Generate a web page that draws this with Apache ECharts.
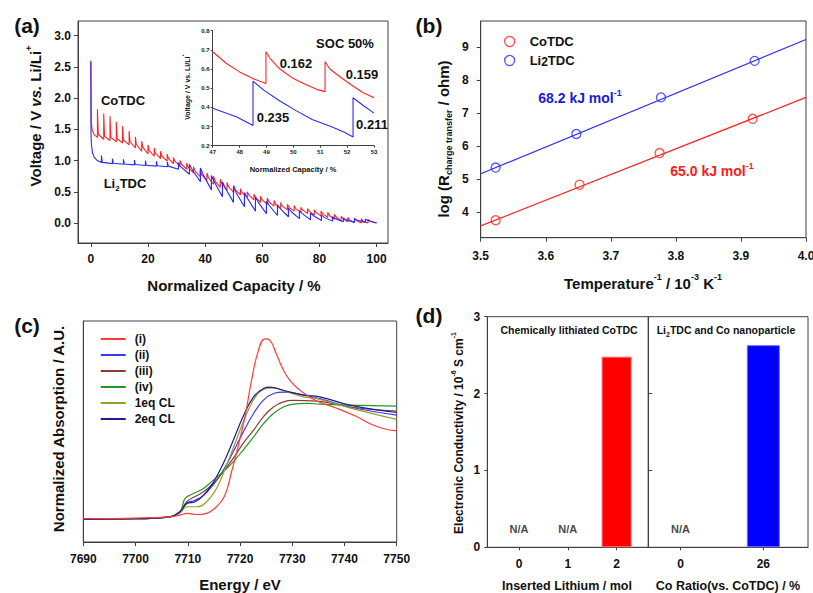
<!DOCTYPE html>
<html>
<head>
<meta charset="utf-8">
<script src="https://cdn.jsdelivr.net/npm/echarts@6.0.0/dist/echarts.min.js"></script>
<style>
html, body { margin: 0; padding: 0; background: #fff; }
#fig { width: 813px; height: 593px; }
</style>
</head>
<body>
<div id="fig"></div>
<script>
// ---- (a) GITT discharge curves, [normalized capacity %, voltage V]
var coTdcGitt = [
  [0,2.3],[0,2.6],[0.15,1.6],[0.5,1.48],[1.2,1.41],[2.3,1.37],
  [2.3,1.82],[2.6,1.42],[4.5,1.34],
  [4.5,1.75],[4.8,1.39],[6.7,1.32],
  [6.7,1.71],[7.0,1.37],[8.9,1.30],
  [8.9,1.62],[9.2,1.35],[11.1,1.28],
  [11.1,1.55],[11.4,1.33],[13.4,1.25],
  [13.4,1.47],[13.7,1.30],[15.6,1.20],
  [15.6,1.38],[15.9,1.26],[17.8,1.15],
  [17.8,1.31],[18.2,1.21],[20.0,1.11],
  [20.0,1.25],[20.4,1.16],[22.2,1.07],
  [22.2,1.20],[22.6,1.12],[24.4,1.03],
  [24.4,1.15],[24.9,1.07],[26.7,0.99],
  [26.7,1.10],[27.2,1.03],[28.9,0.95],
  [28.9,1.05],[29.4,0.99],[31.2,0.91],
  [31.2,1.00],[31.7,0.94],[33.55,0.86],
  [33.55,0.96],[34.1,0.89],[35.9,0.80],
  [35.9,0.90],[36.5,0.83],[38.25,0.74],
  [38.25,0.85],[38.8,0.77],[40.6,0.68],
  [40.6,0.80],[41.2,0.72],[42.95,0.62],
  [42.95,0.75],[43.5,0.67],[45.3,0.57],
  [45.3,0.70],[45.9,0.62],[47.65,0.53],
  [47.65,0.65],[48.2,0.58],[50.0,0.49],
  [50.0,0.60],[50.6,0.53],[52.35,0.45],
  [52.35,0.55],[52.9,0.49],[54.7,0.41],
  [54.7,0.50],[55.3,0.45],[57.05,0.37],
  [57.05,0.46],[57.6,0.41],[59.4,0.33],
  [59.4,0.43],[60.0,0.37],[61.75,0.30],
  [61.75,0.40],[62.3,0.34],[64.1,0.27],
  [64.1,0.36],[64.7,0.30],[66.45,0.23],
  [66.45,0.33],[67.0,0.27],[68.8,0.21],
  [68.8,0.30],[69.4,0.25],[71.15,0.19],
  [71.15,0.28],[71.7,0.23],[73.5,0.17],
  [73.5,0.25],[74.1,0.21],[75.85,0.15],
  [75.85,0.23],[76.4,0.19],[78.2,0.13],
  [78.2,0.21],[78.8,0.17],[80.55,0.11],
  [80.55,0.19],[81.1,0.15],[82.9,0.09],
  [82.9,0.17],[83.5,0.12],[85.25,0.06],
  [85.25,0.14],[85.8,0.10],[87.6,0.03],
  [87.6,0.11],[88.2,0.07],[89.95,0.02],
  [89.95,0.09],[90.5,0.05],[92.3,0.01],
  [92.3,0.08],[92.9,0.04],[94.65,0.0],
  [94.65,0.07],[95.2,0.03],[97.0,0.0],
  [97.0,0.06],[97.6,0.03],[100,0.0]
];
var li2TdcGitt = [
  [0,2.58],[0.05,1.45],[0.2,1.25],[0.6,1.12],[1.2,1.05],[2.2,1.0],[3.7,0.97],
  [3.7,1.08],[4.0,0.97],[7.55,0.95],
  [7.55,1.03],[7.85,0.955],[11.4,0.94],
  [11.4,1.02],[11.7,0.945],[15.25,0.93],
  [15.25,1.01],[15.55,0.935],[19.1,0.92],
  [19.1,1.00],[19.4,0.925],[22.95,0.91],
  [22.95,0.99],[23.25,0.915],[26.8,0.90],
  [26.8,0.98],[27.1,0.91],[30.65,0.86],
  [30.65,0.97],[31.2,0.91],[34.5,0.78],
  [34.5,0.94],[35.5,0.85],[38.35,0.66],
  [38.35,0.88],[39.35,0.77],[42.2,0.53],
  [42.2,0.76],[43.2,0.66],[46.05,0.42],
  [46.05,0.66],[47.05,0.56],[49.9,0.33],
  [49.9,0.58],[50.9,0.48],[53.75,0.26],
  [53.75,0.49],[54.75,0.40],[57.6,0.19],
  [57.6,0.42],[58.6,0.33],[61.45,0.15],
  [61.45,0.35],[62.45,0.28],[65.3,0.12],
  [65.3,0.29],[66.3,0.23],[69.15,0.10],
  [69.15,0.24],[70.15,0.18],[73.0,0.07],
  [73.0,0.20],[74.0,0.15],[76.85,0.05],
  [76.85,0.16],[77.85,0.12],[80.7,0.04],
  [80.7,0.13],[81.7,0.09],[84.55,0.03],
  [84.55,0.10],[85.55,0.07],[88.4,0.02],
  [88.4,0.08],[89.4,0.05],[92.25,0.01],
  [92.25,0.07],[93.25,0.045],[96.1,0.01],
  [96.1,0.06],[97.1,0.04],[100,0.0]
];
var aTicksX = [0, 20, 40, 60, 80, 100];
var aTicksY = [0, 0.5, 1.0, 1.5, 2.0, 2.5, 3.0];

// (a) inset around SOC 50 %
var coTdcInset = [
  [47,0.69],[47.5,0.63],[48,0.585],[48.5,0.55],[48.98,0.525],
  [48.98,0.69],[49.13,0.656],[49.5,0.60],[50,0.55],[50.5,0.517],[50.87,0.494],[51.18,0.482],
  [51.18,0.638],[51.36,0.60],[51.73,0.56],[52.23,0.51],[52.6,0.476],[53,0.45]
];
var li2TdcInset = [
  [47,0.395],[47.9,0.35],[48.5,0.305],
  [48.5,0.537],[48.9,0.49],[49.5,0.433],[50.1,0.383],[50.7,0.337],[51.4,0.30],[51.9,0.27],[52.22,0.245],
  [52.22,0.45],[52.6,0.41],[53,0.37]
];

// ---- (b) Arrhenius plot, [1000/T, log R_ct]
var coTdcArr = [[3.523,3.75],[3.652,4.83],[3.775,5.79],[3.918,6.83]];
var li2TdcArr = [[3.523,5.35],[3.647,6.37],[3.777,7.48],[3.921,8.59]];
var coTdcFit = [[3.5,3.58],[4.0,7.48]];
var li2TdcFit = [[3.5,5.16],[4.0,9.24]];
var bTicksY = [4, 5, 6, 7, 8, 9];

// ---- (c) Co K-edge XANES, [energy eV, normalized absorption]
var xanesNames = ['(i)', '(ii)', '(iii)', '(iv)', '1eq CL', '2eq CL'];
var xanesColors = ['#ff3b3b', '#3a3aff', '#8e3b3b', '#1f9a1f', '#9c9c2c', '#1c1c8c'];
var xanesI = [[7690,-0.005],[7700,0.0],[7706.6,0.011],[7708.5,0.025],[7709.8,0.04],[7711.7,0.03],[7713.6,0.04],[7715.5,0.095],[7717.1,0.19],[7718.4,0.39],[7719.7,0.61],[7721.0,0.86],[7722.2,1.15],[7723.5,1.40],[7724.8,1.50],[7725.7,1.49],[7727.0,1.37],[7728.3,1.24],[7729.6,1.15],[7731.2,1.08],[7732.8,1.03],[7734.7,0.98],[7738.5,0.92],[7742.3,0.85],[7744.9,0.79],[7747.4,0.75],[7750,0.73]];
var xanesII = [[7690,-0.01],[7700,-0.005],[7706.6,0.011],[7708.5,0.053],[7709.8,0.123],[7711.4,0.15],[7713.0,0.19],[7714.9,0.28],[7716.8,0.40],[7718.7,0.555],[7720.6,0.72],[7722.6,0.876],[7724.5,0.987],[7726.4,1.043],[7728.3,1.055],[7730.9,1.043],[7735.3,1.0],[7741,0.93],[7750,0.862]];
var xanesIII = [[7690,-0.01],[7700,-0.005],[7706.6,0.011],[7708.5,0.053],[7709.8,0.137],[7711.4,0.18],[7713.0,0.22],[7714.9,0.29],[7716.8,0.39],[7718.7,0.50],[7720.6,0.625],[7722.6,0.736],[7724.5,0.85],[7726.4,0.93],[7728.3,0.973],[7730.2,0.985],[7734.7,0.98],[7741,0.93],[7750,0.895]];
var xanesIV = [[7690,-0.01],[7700,-0.005],[7706.6,0.011],[7708.5,0.053],[7709.5,0.165],[7711.1,0.206],[7713.0,0.248],[7714.9,0.318],[7716.8,0.388],[7718.7,0.47],[7720.6,0.57],[7722.6,0.68],[7724.5,0.79],[7726.4,0.876],[7728.3,0.93],[7730.2,0.954],[7732.8,0.96],[7735.3,0.954],[7741,0.946],[7750,0.937]];
var xanes1eq = [[7690,-0.01],[7700,-0.005],[7706.6,0.011],[7708.5,0.04],[7709.8,0.095],[7711.7,0.095],[7713.6,0.137],[7715.5,0.248],[7717.4,0.44],[7719.4,0.667],[7721.3,0.876],[7723.2,1.03],[7725.1,1.085],[7726.4,1.09],[7729.0,1.057],[7732.1,1.015],[7734.7,1.0],[7741,0.923],[7750,0.826]];
var xanes2eq = [[7690,-0.01],[7700,-0.005],[7706.6,0.011],[7708.5,0.053],[7709.8,0.123],[7711.4,0.137],[7713.0,0.19],[7714.9,0.30],[7716.8,0.457],[7718.7,0.65],[7720.6,0.85],[7722.6,1.015],[7724.5,1.085],[7725.7,1.096],[7728.3,1.07],[7732.1,1.03],[7735.3,1.015],[7741,0.946],[7750,0.884]];
var xanesData = [xanesI, xanesII, xanesIII, xanesIV, xanes1eq, xanes2eq];

// ---- (d) electronic conductivity, 10^-6 S/cm (null = N/A)
var liInserted = ['0', '1', '2'];
var liCond = [null, null, 2.48];
var coRatio = ['0', '26'];
var coCond = [null, 2.63];

var FONT = 'Liberation Sans, Arial, sans-serif';
var INK = '#111';
var FRAME = '#404040';
var RED = '#ff2424';
var BLUE = '#2a2aff';

var chart = echarts.init(document.getElementById('fig'), null, { renderer: 'svg' });

function gridBox(l, t, w, h, show) {
  return { left: l, top: t, width: w, height: h, show: show, borderColor: FRAME, borderWidth: 1,
    backgroundColor: 'transparent', containLabel: false, outerBoundsMode: 'none' };
}

function axis(gi, o) {
  var a = {
    type: 'value', gridIndex: gi,
    axisLine: { show: true, onZero: false, lineStyle: { color: FRAME, width: 1 } },
    splitLine: { show: false },
    axisTick: { show: true, inside: false, length: 4, lineStyle: { color: FRAME } },
    axisLabel: { color: INK, fontFamily: FONT, fontWeight: 'bold', fontSize: 12 }
  };
  for (var k in o) {
    if (a[k] && typeof a[k] === 'object' && typeof o[k] === 'object' && !Array.isArray(o[k])) {
      a[k] = Object.assign({}, a[k], o[k]);
    } else {
      a[k] = o[k];
    }
  }
  return a;
}

function rich(size, color) {
  var s = Math.round(size * 0.62);
  return {
    sup: { font: 'bold ' + s + 'px ' + FONT, fill: color, verticalAlign: 'top', height: s },
    sub: { font: 'bold ' + s + 'px ' + FONT, fill: color, verticalAlign: 'bottom', height: s },
    it: { font: 'italic bold ' + size + 'px ' + FONT, fill: color }
  };
}

function txt(x, y, text, size, opt) {
  opt = opt || {};
  var color = opt.color || INK;
  var r = opt.rich || rich(size, color);
  return {
    type: 'text', x: x, y: y, rotation: opt.rotation || 0, silent: true, z: 100,
    style: {
      text: text, rich: r, fill: color, font: 'bold ' + size + 'px ' + FONT,
      lineHeight: size + 6, align: opt.align || 'center', verticalAlign: 'middle'
    }
  };
}

function curve(name, xi, data, color, width, extra) {
  var s = {
    name: name, type: 'line', xAxisIndex: xi, yAxisIndex: xi, data: data,
    showSymbol: false, symbol: 'none', clip: true, animation: false, silent: true,
    lineStyle: { color: color, width: width }, itemStyle: { color: color }
  };
  return Object.assign(s, extra || {});
}

function fixed1(v) { return v.toFixed(1); }
function plain(v) { return String(v); }

var series = [
  curve('CoTDC-a', 0, coTdcGitt, RED, 1.1),
  curve('Li2TDC-a', 0, li2TdcGitt, BLUE, 1.1),
  curve('CoTDC-inset', 1, coTdcInset, RED, 1.1),
  curve('Li2TDC-inset', 1, li2TdcInset, BLUE, 1.1),
  curve('CoTDC-fit', 2, coTdcFit, RED, 1.2),
  curve('Li2TDC-fit', 2, li2TdcFit, BLUE, 1.2),
  {
    name: 'CoTDC', type: 'scatter', xAxisIndex: 2, yAxisIndex: 2, data: coTdcArr, symbol: 'circle',
    symbolSize: 9, animation: false, silent: true,
    itemStyle: { color: '#ffffff', borderColor: RED, borderWidth: 1.3 }
  },
  {
    name: 'Li2TDC', type: 'scatter', xAxisIndex: 2, yAxisIndex: 2, data: li2TdcArr, symbol: 'circle',
    symbolSize: 9, animation: false, silent: true,
    itemStyle: { color: '#ffffff', borderColor: BLUE, borderWidth: 1.3 }
  }
];

xanesNames.forEach(function (n, i) {
  series.push(curve(n, 3, xanesData[i], xanesColors[i], 1.2, { smooth: 0.45, z: i === 0 ? 3 : 2 }));
});

function barSeries(xi, cats, vals, color, border, width) {
  var bars = [], na = [];
  vals.forEach(function (v, i) {
    if (v === null) na.push([i, 0.24]);
    else bars.push([i, v]);
  });
  return [
    {
      type: 'bar', xAxisIndex: xi, yAxisIndex: xi, data: bars, barWidth: width, animation: false, silent: true,
      itemStyle: { color: color, borderColor: border, borderWidth: 1 }
    },
    {
      type: 'scatter', xAxisIndex: xi, yAxisIndex: xi, data: na, symbolSize: 0, animation: false, silent: true,
      label: { show: true, position: 'inside', formatter: 'N/A', color: INK, fontFamily: FONT, fontWeight: 'bold', fontSize: 11 }
    }
  ];
}
series = series.concat(barSeries(4, liInserted, liCond, '#ff0000', '#ff7070', 30));
series = series.concat(barSeries(5, coRatio, coCond, '#0000ff', '#7070ff', 33));

var insetLabel = { fontSize: 6, margin: 3, color: '#222' };
var insetTick = { length: 2 };

var option = {
  backgroundColor: '#ffffff',
  animation: false,
  grid: [
    gridBox(78, 21, 310, 222, true),
    gridBox(212.7, 30.7, 161.3, 115, false),
    gridBox(480.7, 21, 325.3, 216.7, true),
    gridBox(83.3, 321, 313.4, 221, true),
    gridBox(487.3, 316.7, 161, 230.6, true),
    gridBox(648.3, 316.7, 159.7, 230.6, true)
  ],
  xAxis: [
    axis(0, { min: -4.5, max: 104, axisTick: { customValues: aTicksX }, axisLabel: { customValues: aTicksX, margin: 10 } }),
    axis(1, { min: 47, max: 53, interval: 1, axisTick: insetTick, axisLabel: insetLabel }),
    axis(2, { min: 3.5, max: 4.0, interval: 0.1, axisLabel: { formatter: fixed1, margin: 12 } }),
    axis(3, { min: 7690, max: 7750, interval: 10, axisLabel: { margin: 11, formatter: plain } }),
    axis(4, { min: -0.65, max: 2.65, axisTick: { customValues: [0, 1, 2], length: 3 },
      axisLabel: { customValues: [0, 1, 2], margin: 11, formatter: function (v) { return liInserted[Math.round(v)]; } } }),
    axis(5, { min: -0.39, max: 1.54, axisTick: { customValues: [0, 1], length: 3 },
      axisLabel: { customValues: [0, 1], margin: 11, formatter: function (v) { return coRatio[Math.round(v)]; } } })
  ],
  yAxis: [
    axis(0, { min: -0.32, max: 3.232, axisTick: { customValues: aTicksY }, axisLabel: { customValues: aTicksY, formatter: fixed1, margin: 7 } }),
    axis(1, { min: 0.2, max: 0.8, interval: 0.1, axisTick: insetTick, axisLabel: Object.assign({ formatter: fixed1 }, insetLabel) }),
    axis(2, { min: 3.22, max: 9.8, axisTick: { customValues: bTicksY }, axisLabel: { customValues: bTicksY, margin: 12 } }),
    axis(3, { min: -0.2, max: 1.65, axisTick: { show: false }, axisLabel: { show: false } }),
    axis(4, { min: 0, max: 3, interval: 1, axisTick: { length: 3 }, axisLabel: { margin: 7 } }),
    axis(5, { min: 0, max: 3, axisTick: { inside: true, length: 4, customValues: [1, 2] }, axisLabel: { show: false } })
  ],
  legend: [
    {
      data: ['CoTDC', 'Li2TDC'], orient: 'vertical', left: 499, top: 29, itemWidth: 10, itemHeight: 10,
      itemGap: 4, selectedMode: false, icon: 'circle',
      itemStyle: { color: '#ffffff', borderColor: 'inherit', borderWidth: 1.3 },
      formatter: function (n) { return n === 'Li2TDC' ? 'Li{s|2}TDC' : n; },
      textStyle: {
        color: INK, fontFamily: FONT, fontWeight: 'bold', fontSize: 13, lineHeight: 15, padding: [0, 0, 0, 10],
        rich: { s: { color: INK, fontFamily: FONT, fontWeight: 'bold', fontSize: 12, verticalAlign: 'bottom', lineHeight: 15 } }
      }
    },
    {
      data: xanesNames, orient: 'vertical', left: 95.7, top: 327, itemWidth: 25, itemHeight: 2,
      itemGap: 2, selectedMode: false, icon: 'rect',
      textStyle: { color: INK, fontFamily: FONT, fontWeight: 'bold', fontSize: 12, lineHeight: 14, padding: [0, 0, 0, 4] }
    }
  ],
  series: series,
  graphic: [
    // panel letters
    txt(27, 25, '(a)', 21), txt(429, 25, '(b)', 21), txt(27, 325, '(c)', 21), txt(429, 315, '(d)', 21),
    // (a)
    txt(234, 285, 'Normalized Capacity / %', 15),
    txt(35, 116, 'Voltage / V {it|vs.} Li/Li{sup|+}', 15, { rotation: Math.PI / 2 }),
    txt(123, 100, 'CoTDC', 13),
    txt(125, 183, 'Li{sub|2}TDC', 13),
    txt(345, 43, 'SOC 50%', 13),
    txt(296, 63, '0.162', 13), txt(362, 74, '0.159', 13),
    txt(273, 117, '0.235', 13), txt(372, 124, '0.211', 13),
    txt(293, 169, 'Normalized Capacity / %', 7.5),
    txt(187, 87, 'Voltage / V vs. Li/Li{sup|+}', 7, { rotation: Math.PI / 2 }),
    // (b)
    txt(643, 283, 'Temperature{sup|-1} / 10{sup|-3} K{sup|-1}', 15),
    txt(443, 139, 'log (R{sub|charge transfer} / ohm)', 15, { rotation: Math.PI / 2 }),
    txt(580, 98, '68.2 kJ mol{sup|-1}', 14, { color: '#1a1ad8' }),
    txt(712, 171, '65.0 kJ mol{sup|-1}', 14, { color: '#ff1a1a' }),
    // (c)
    txt(240, 584, 'Energy / eV', 15),
    txt(58, 429, 'Normalized Absorption / A.U.', 15, { rotation: Math.PI / 2 }),
    // (d)
    txt(459, 433, 'Electronic Conductivity / 10{sup|-6} S cm{sup|-1}', 12, { rotation: Math.PI / 2 }),
    txt(567, 586, 'Inserted Lithium / mol', 12.5),
    txt(728, 586, 'Co Ratio(vs. CoTDC) / %', 12.5),
    txt(569, 330, 'Chemically lithiated CoTDC', 10.5),
    txt(726, 330, 'Li{sub|2}TDC and Co nanoparticle', 10.5)
  ]
};

chart.setOption(option);
</script>
</body>
</html>
